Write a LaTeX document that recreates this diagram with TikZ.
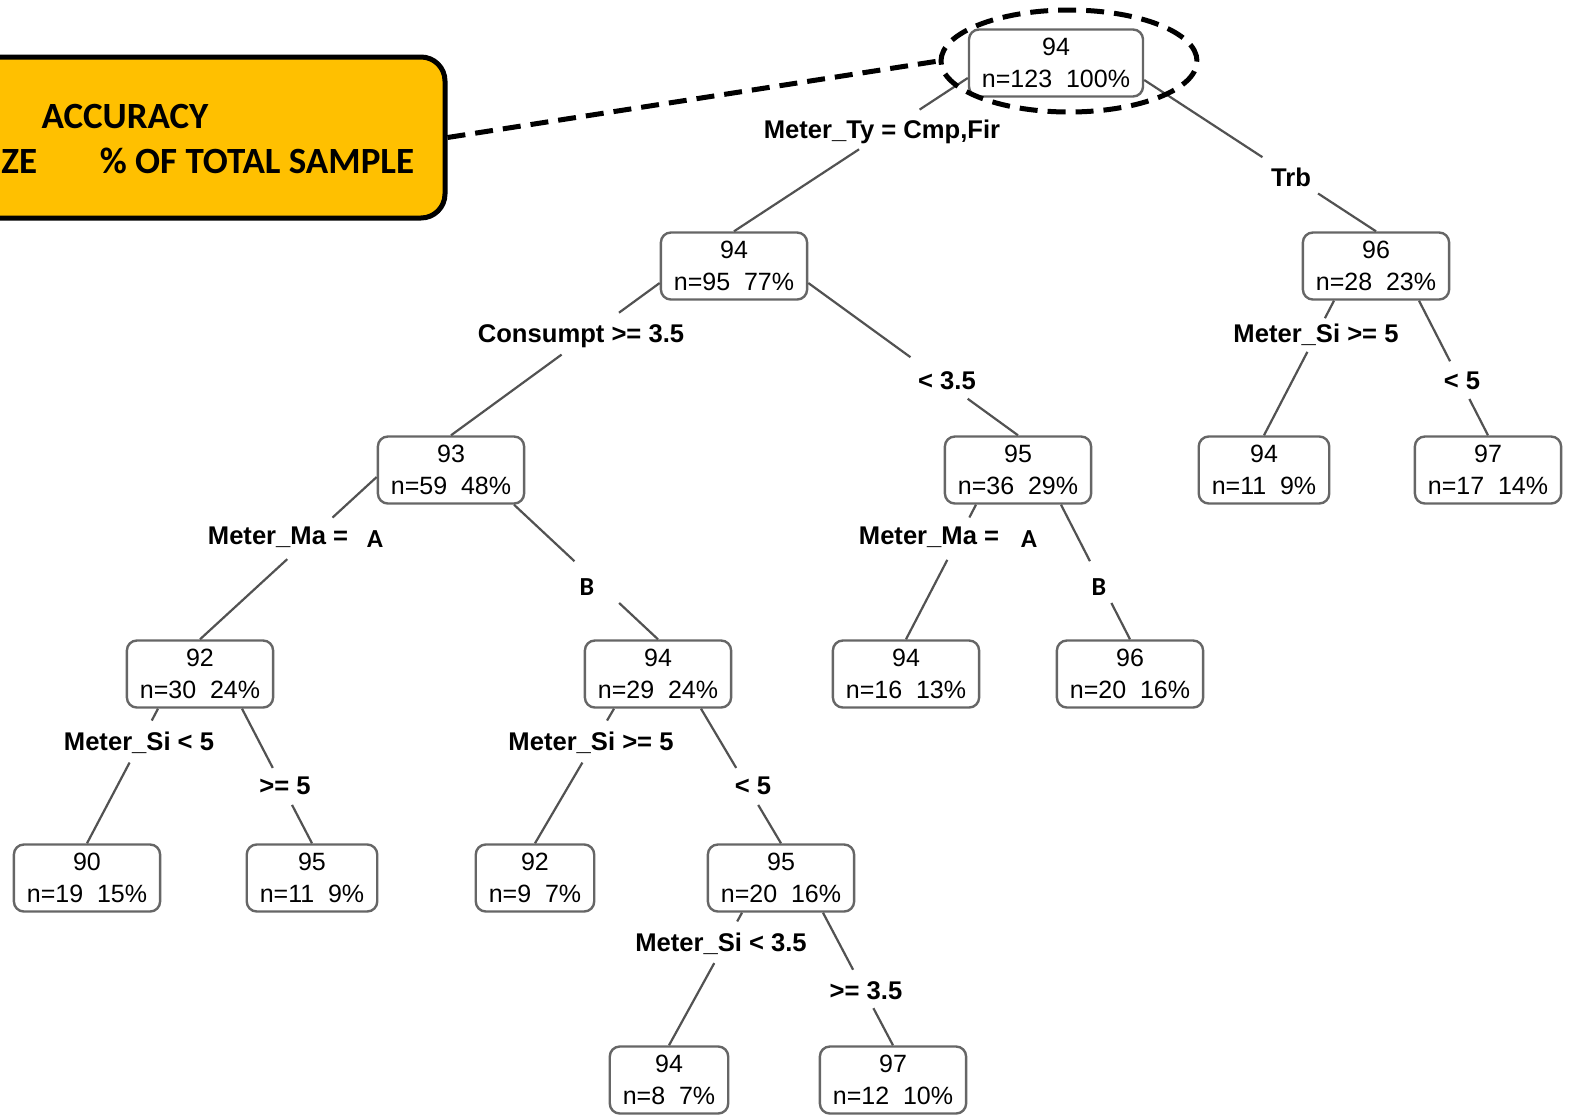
\documentclass[tikz,border=0pt]{standalone}
\usepackage{fontspec}
\setmainfont{Liberation Sans}
\newfontfamily\calib{Carlito}
\usetikzlibrary{calc,shapes.geometric}
\definecolor{callout}{HTML}{FFC000}
\newcommand\tedge[4]{%
  \coordinate (ea) at (#1);
  \coordinate (eb) at (#2);
  \draw[edge] (ea) -- ($(ea)!#3!(eb)$);
  \draw[edge] ($(ea)!#4!(eb)$) -- (eb);}
\tikzset{
  tn/.style={draw=black!60, line width=1.2pt, rounded corners=5pt, align=center,
    inner xsep=6.5pt, inner ysep=2pt, minimum height=33.5pt,
    font=\fontsize{12.5}{16}\selectfont},
  el/.style={anchor=base, inner sep=0pt, font=\bfseries\fontsize{12.8}{15}\selectfont},
  ab/.style={anchor=base, inner sep=0pt, font=\calib\bfseries\fontsize{13}{15}\selectfont},
  edge/.style={draw=black!68, line width=1.1pt},
  hl/.style={draw=black, line width=2.5pt, dash pattern=on 9pt off 5pt},
  ct/.style={anchor=base, inner sep=0pt, font=\calib\bfseries\fontsize{18.5}{22}\selectfont}
}
\begin{document}
\begin{tikzpicture}[x=0.5pt,y=-0.5pt]
\useasboundingbox (0,0) rectangle (1571,1115);
\clip (0,0) rectangle (1571,1115);
% tree nodes
\node[tn] (root) at (1056,63) {94\\n=123\ \ 100\%};
\node[tn] (L1) at (734,266) {94\\n=95\ \ 77\%};
\node[tn] (R1) at (1376,266) {96\\n=28\ \ 23\%};
\node[tn] (L2a) at (451,470) {93\\n=59\ \ 48\%};
\node[tn] (L2b) at (1018,470) {95\\n=36\ \ 29\%};
\node[tn] (R2a) at (1264,470) {94\\n=11\ \ 9\%};
\node[tn] (R2b) at (1488,470) {97\\n=17\ \ 14\%};
\node[tn] (L3a) at (200,674) {92\\n=30\ \ 24\%};
\node[tn] (L3b) at (658,674) {94\\n=29\ \ 24\%};
\node[tn] (L3c) at (906,674) {94\\n=16\ \ 13\%};
\node[tn] (L3d) at (1130,674) {96\\n=20\ \ 16\%};
\node[tn] (L4a) at (87,878) {90\\n=19\ \ 15\%};
\node[tn] (L4b) at (312,878) {95\\n=11\ \ 9\%};
\node[tn] (L4c) at (535,878) {92\\n=9\ \ 7\%};
\node[tn] (L4d) at (781,878) {95\\n=20\ \ 16\%};
\node[tn] (L5a) at (669,1080) {94\\n=8\ \ 7\%};
\node[tn] (L5b) at (893,1080) {97\\n=12\ \ 10\%};
% edges
\tedge{$(root.west)+(0,15)$}{L1.north}{0.206}{0.465}
\tedge{$(root.east)+(0,17)$}{R1.north}{0.51}{0.75}
\tedge{$(L1.west)+(0,17)$}{L2a.north}{0.195}{0.47}
\tedge{$(L1.east)+(0,17)$}{L2b.north}{0.487}{0.76}
\tedge{$(R1.south)+(-42,0)$}{R2a.north}{0.13}{0.38}
\tedge{$(R1.south)+(43,0)$}{R2b.north}{0.45}{0.73}
\tedge{$(L2a.west)+(0,7)$}{L3a.north}{0.25}{0.506}
\tedge{$(L2a.south)+(63,0)$}{L3b.north}{0.42}{0.73}
\tedge{$(L2b.south)+(-42,0)$}{L3c.north}{0.095}{0.41}
\tedge{$(L2b.south)+(43,0)$}{L3d.north}{0.42}{0.73}
\tedge{$(L3a.south)+(-42,0)$}{L4a.north}{0.088}{0.40}
\tedge{$(L3a.south)+(42,0)$}{L4b.north}{0.44}{0.715}
\tedge{$(L3b.south)+(-44,0)$}{L4c.north}{0.088}{0.40}
\tedge{$(L3b.south)+(43,0)$}{L4d.north}{0.44}{0.715}
\tedge{$(L4d.south)+(-39,0)$}{L5a.north}{0.066}{0.38}
\tedge{$(L4d.south)+(42,0)$}{L5b.north}{0.43}{0.72}
% edge labels
\node[el] (lab1) at (882,138) {Meter\_Ty = Cmp,Fir};
\node[el] (lab2) at (1291,186) {Trb};
\node[el] (lab3) at (581,342) {Consumpt >= 3.5};
\node[el] (lab4) at (947,389) {< 3.5};
\node[el] (lab5) at (1316,342) {Meter\_Si >= 5};
\node[el] (lab6) at (1462,389) {< 5};
\node[el] (lab7) at (278,544) {Meter\_Ma =};
\node[ab] (lab7b) at (375,547) {A};
\node[ab] (lab8) at (587,595) {B};
\node[el] (lab9) at (929,544) {Meter\_Ma =};
\node[ab] (lab9b) at (1029,547) {A};
\node[ab] (lab10) at (1099,595) {B};
\node[el] (lab11) at (139,750) {Meter\_Si < 5};
\node[el] (lab12) at (285,794) {>= 5};
\node[el] (lab13) at (591,750) {Meter\_Si >= 5};
\node[el] (lab14) at (753,794) {< 5};
\node[el] (lab15) at (721,951) {Meter\_Si < 3.5};
\node[el] (lab16) at (866,999) {>= 3.5};
% highlight ellipse and callout
\node[hl, ellipse, inner sep=0pt, minimum width=128pt, minimum height=51pt] (hlE) at (1069,61) {};
\node[draw=black, line width=2.5pt, fill=callout, rounded corners=12pt,
      minimum width=252.5pt, minimum height=80.5pt, inner sep=0pt] (co) at (192.5,137.5) {};
\node[ct] (ct1) at (125,128) {ACCURACY};
\node[ct, anchor=base west] (ct2) at (1,173) {ZE};
\node[ct] (ct3) at (257,173) {\% OF TOTAL SAMPLE};
\draw[hl] (co.east) -- (hlE.west);
\end{tikzpicture}
\end{document}
